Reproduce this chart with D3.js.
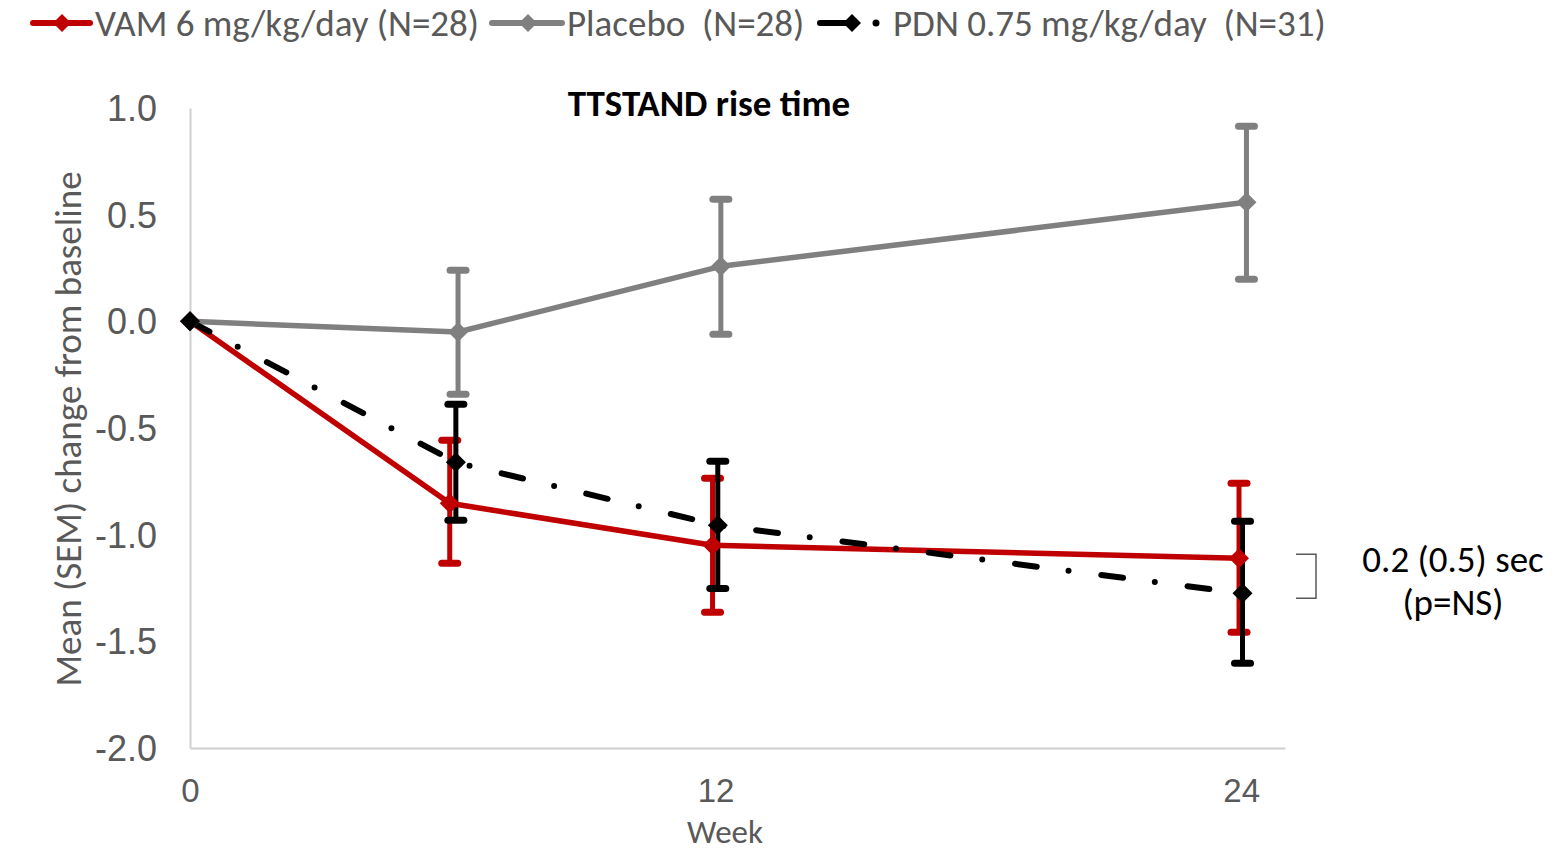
<!DOCTYPE html>
<html><head><meta charset="utf-8">
<script src="https://cdn.jsdelivr.net/npm/d3@7"></script>
<style>
html,body{margin:0;padding:0;background:#fff;}
svg{display:block;font-family:Carlito,Lato,"Liberation Sans",sans-serif;}
text{white-space:pre;}
</style></head>
<body><svg id="chart" width="1552" height="853"></svg>
<script>
// ---- data ----
const xTicks = [0, 12, 24];
const yTicks = [1.0, 0.5, 0.0, -0.5, -1.0, -1.5, -2.0];
const seriesNames = ["VAM 6 mg/kg/day (N=28)", "Placebo  (N=28)", "PDN 0.75 mg/kg/day  (N=31)"];

const vamWeeks = [0, 5.93, 11.93, 23.95];
const vamMean  = [0, -0.853, -1.05, -1.11];
const vamLow   = [0, -1.134, -1.364, -1.458];
const vamHigh  = [0, -0.558, -0.736, -0.759];

const placeboWeeks = [0, 6.12, 12.12, 24.12];
const placeboMean  = [0, -0.05, 0.258, 0.558];
const placeboLow   = [0, -0.342, -0.061, 0.197];
const placeboHigh  = [0, 0.239, 0.572, 0.914];

const pdnWeeks = [0, 6.07, 12.05, 24.03];
const pdnMean  = [0, -0.661, -0.956, -1.275];
const pdnLow   = [0, -0.933, -1.252, -1.603];
const pdnHigh  = [0, -0.389, -0.656, -0.9375];

const annotation = ["0.2 (0.5) sec", "(p=NS)"];

// ---- chart ----
const svg = d3.select("#chart");
const x = d3.scaleLinear().domain([0, 25]).range([190, 1285]);
const y = d3.scaleLinear().domain([-2, 1]).range([748, 108]);
const textColor = "#595959";

const series = [
  {name: seriesNames[0], w: vamWeeks, m: vamMean, lo: vamLow, hi: vamHigh, color: "#C00000", dash: null},
  {name: seriesNames[1], w: placeboWeeks, m: placeboMean, lo: placeboLow, hi: placeboHigh, color: "#808080", dash: null},
  {name: seriesNames[2], w: pdnWeeks, m: pdnMean, lo: pdnLow, hi: pdnHigh, color: "#000000", dash: "22,32,0,33"}
];
series.forEach(s => s.pts = s.w.map((w, i) => ({w, m: s.m[i], lo: s.lo[i], hi: s.hi[i]})));

// axes
const yAxis = d3.axisLeft(y).tickValues(yTicks).tickSize(0).tickPadding(33);
const gy = svg.append("g").attr("transform", `translate(${x(0)},0)`).call(yAxis);
gy.select(".domain").attr("stroke", "#d0d0d0").attr("stroke-width", 2);
gy.selectAll("text").attr("fill", textColor).attr("font-size", 36).attr("dy", "0.35em")
  .text(d => d3.format(".1f")(d).replace("−", "-"));

const xAxis = d3.axisBottom(x).tickValues(xTicks).tickSize(0).tickPadding(31);
const gx = svg.append("g").attr("transform", `translate(0,${y(-2)})`).call(xAxis);
gx.select(".domain").attr("stroke", "#d0d0d0").attr("stroke-width", 2);
gx.selectAll("text").attr("fill", textColor).attr("font-size", 33);

// axis titles
svg.append("text").attr("x", 725).attr("y", 843).attr("text-anchor", "middle")
  .attr("fill", textColor).attr("font-size", 33).text("Week");
svg.append("text").attr("transform", "translate(81,429) rotate(-90)").attr("text-anchor", "middle")
  .attr("fill", textColor).attr("font-size", 37).text("Mean (SEM) change from baseline");

// title
svg.append("text").attr("x", 709).attr("y", 116).attr("text-anchor", "middle")
  .attr("font-weight", "bold").attr("font-size", 37).attr("fill", "#000").text("TTSTAND rise time");

// error bars
series.forEach(s => {
  const g = svg.append("g").attr("stroke", s.color).attr("stroke-width", 5).attr("stroke-linecap", "round").attr("fill", "none");
  s.pts.filter(p => p.hi !== p.lo).forEach(p => {
    g.append("line").attr("x1", x(p.w)).attr("x2", x(p.w)).attr("y1", y(p.lo)).attr("y2", y(p.hi));
    g.append("line").attr("x1", x(p.w) - 8).attr("x2", x(p.w) + 8).attr("y1", y(p.lo)).attr("y2", y(p.lo)).attr("stroke-width", 7);
    g.append("line").attr("x1", x(p.w) - 8).attr("x2", x(p.w) + 8).attr("y1", y(p.hi)).attr("y2", y(p.hi)).attr("stroke-width", 7);
  });
});

// lines
const line = d3.line().x(p => x(p.w)).y(p => y(p.m));
series.forEach(s => {
  svg.append("path").datum(s.pts).attr("d", line).attr("fill", "none")
    .attr("stroke", s.color).attr("stroke-width", s.dash ? 6 : 5.5)
    .attr("stroke-linecap", s.dash ? "round" : "butt")
    .attr("stroke-linejoin", "round")
    .attr("stroke-dasharray", s.dash);
});

// markers
const diamond = r => `M0,${-r}L${r},0L0,${r}L${-r},0Z`;
series.forEach(s => {
  svg.append("g").selectAll("path").data(s.pts).join("path")
    .attr("transform", p => `translate(${x(p.w)},${y(p.m)})`)
    .attr("d", diamond(10)).attr("fill", s.color);
});

// legend
const leg = svg.append("g");
const legItems = [
  {s: series[0], x0: 33, x1: 90, dx: 62, tx: 95},
  {s: series[1], x0: 492, x1: 562, dx: 528, tx: 567},
  {s: series[2], x0: 820, x1: 846, dx: 852, tx: 893}
];
legItems.forEach(it => {
  leg.append("line").attr("x1", it.x0).attr("x2", it.x1).attr("y1", 23).attr("y2", 23)
    .attr("stroke", it.s.color).attr("stroke-width", 6).attr("stroke-linecap", "round");
  leg.append("path").attr("transform", `translate(${it.dx},23)`).attr("d", diamond(9)).attr("fill", it.s.color);
  if (it.s.dash) leg.append("circle").attr("cx", 876).attr("cy", 23).attr("r", 3.5).attr("fill", it.s.color);
  leg.append("text").attr("x", it.tx).attr("y", 36).attr("font-size", 37).attr("fill", textColor)
    .attr("xml:space", "preserve").text(it.s.name);
});

// bracket annotation at week 24
const yA = y(vamMean[3]) - 4, yB = y(pdnMean[3]) + 5;
svg.append("path").attr("d", `M1296,${yA}H1316V${yB}H1296`).attr("fill", "none")
  .attr("stroke", "#595959").attr("stroke-width", 1.5);
svg.append("text").attr("x", 1453).attr("y", 572).attr("text-anchor", "middle")
  .attr("font-size", 37).attr("fill", "#000").text(annotation[0]);
svg.append("text").attr("x", 1453).attr("y", 615).attr("text-anchor", "middle")
  .attr("font-size", 37).attr("fill", "#000").text(annotation[1]);
</script></body></html>
